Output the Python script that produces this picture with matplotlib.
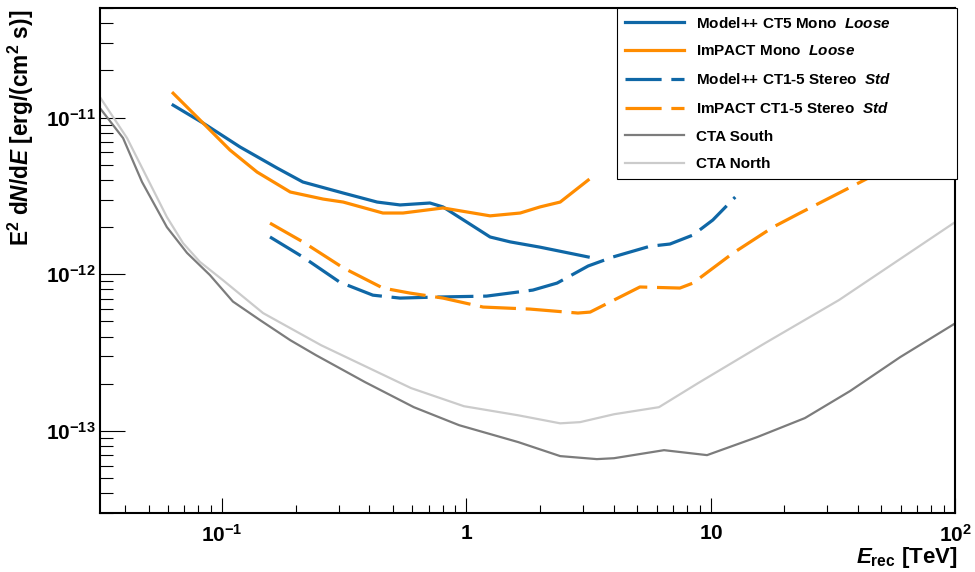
import matplotlib
matplotlib.use("Agg")
import matplotlib.pyplot as plt
from matplotlib.ticker import LogLocator, NullFormatter

# ---------------- data ----------------
south_E = [0.0316, 0.0393, 0.0470, 0.0594, 0.0718, 0.0891, 0.1107, 0.143, 0.190, 0.242, 0.385,
           0.609, 0.933, 1.63, 2.42, 3.42, 4.02, 6.44, 9.66, 15.5, 24.3, 37.2, 59.6, 99.0]
south_F = [1.15e-11, 7.40e-12, 3.88e-12, 2.00e-12, 1.37e-12, 9.89e-13, 6.70e-13, 5.10e-13,
           3.80e-13, 3.05e-13, 2.05e-13, 1.42e-13, 1.09e-13, 8.50e-14, 6.92e-14, 6.62e-14,
           6.71e-14, 7.55e-14, 7.02e-14, 9.15e-14, 1.21e-13, 1.80e-13, 2.96e-13, 4.81e-13]

north_E = [0.0316, 0.0408, 0.0594, 0.0692, 0.0811, 0.1007, 0.147, 0.254, 0.593, 0.977, 1.63,
           2.42, 2.92, 4.02, 6.14, 8.87, 16.7, 33.5, 100.0]
north_F = [1.35e-11, 7.40e-12, 2.32e-12, 1.58e-12, 1.20e-12, 9.18e-13, 5.66e-13, 3.53e-13,
           1.88e-13, 1.44e-13, 1.26e-13, 1.12e-13, 1.14e-13, 1.28e-13, 1.42e-13, 2.02e-13,
           3.64e-13, 6.85e-13, 2.15e-12]

mpp_mono_E = [0.0630, 0.0835, 0.1184, 0.168, 0.214, 0.313, 0.431, 0.535, 0.709, 0.802,
              1.005, 1.25, 1.51, 2.00, 3.15]
mpp_mono_F = [1.20e-11, 9.23e-12, 6.49e-12, 4.76e-12, 3.88e-12, 3.30e-12, 2.89e-12, 2.77e-12,
              2.85e-12, 2.69e-12, 2.15e-12, 1.73e-12, 1.61e-12, 1.49e-12, 1.29e-12]

imp_mono_E = [0.0630, 0.0835, 0.1076, 0.139, 0.190, 0.259, 0.313, 0.455, 0.550, 0.802,
              1.25, 1.66, 2.00, 2.42, 3.15]
imp_mono_F = [1.43e-11, 9.23e-12, 6.21e-12, 4.49e-12, 3.35e-12, 3.02e-12, 2.89e-12, 2.46e-12,
              2.46e-12, 2.65e-12, 2.36e-12, 2.46e-12, 2.69e-12, 2.89e-12, 3.99e-12]

mpp_stereo_E = [0.157, 0.214, 0.303, 0.414, 0.535, 0.757, 1.21, 1.87, 2.35, 3.15, 3.98,
                5.64, 6.81, 8.46, 10.2, 12.6]
mpp_stereo_F = [1.73e-12, 1.29e-12, 8.91e-13, 7.36e-13, 7.05e-13, 7.16e-13, 7.26e-13,
                7.93e-13, 8.79e-13, 1.13e-12, 1.29e-12, 1.51e-12, 1.56e-12, 1.78e-12,
                2.22e-12, 3.11e-12]

imp_stereo_E = [0.157, 0.214, 0.313, 0.455, 0.587, 0.802, 1.17, 1.82, 2.86, 3.21, 3.87,
                5.13, 7.48, 8.46, 12.3, 18.0, 23.2, 36.1, 44.9, 59.6]
imp_stereo_F = [2.12e-12, 1.61e-12, 1.10e-12, 8.17e-13, 7.59e-13, 7.05e-13, 6.18e-13,
                6.00e-13, 5.66e-13, 5.74e-13, 6.65e-13, 8.30e-13, 8.17e-13, 8.79e-13,
                1.36e-12, 2.00e-12, 2.46e-12, 3.50e-12, 4.17e-12, 5.20e-12]

labels = [r"Model++ CT5 Mono  $\mathit{Loose}$",
          r"ImPACT Mono  $\mathit{Loose}$",
          r"Model++ CT1-5 Stereo  $\mathit{Std}$",
          r"ImPACT CT1-5 Stereo  $\mathit{Std}$",
          "CTA South",
          "CTA North"]

x_ticks = [0.1, 1, 10, 100]
x_ticklabels = [r"$10^{-1}$", r"$1$", r"$10$", r"$10^{2}$"]
y_ticks = [1e-13, 1e-12, 1e-11]
y_ticklabels = [r"$10^{-13}$", r"$10^{-12}$", r"$10^{-11}$"]

# ---------------- style ----------------
plt.rcParams['font.family'] = ['Liberation Sans', 'DejaVu Sans']
plt.rcParams['font.weight'] = 'bold'
plt.rcParams['mathtext.fontset'] = 'custom'
plt.rcParams['mathtext.rm'] = 'Liberation Sans:bold'
plt.rcParams['mathtext.bf'] = 'Liberation Sans:bold'
plt.rcParams['mathtext.it'] = 'Liberation Sans:italic:bold'
plt.rcParams['lines.scale_dashes'] = False

BLUE = '#0f67a6'
ORANGE = '#ff8c00'
DGRAY = '#7c7c7c'
LGRAY = '#cbcbcb'

fig = plt.figure(figsize=(9.75, 5.72), dpi=100)
ax = fig.add_axes([100/975, 1-513/572, 855/975, 505/572])

lw_c = 2.3
lw_g = 1.6
dash = (26, 7)
ax.plot(mpp_mono_E, mpp_mono_F, color=BLUE, lw=lw_c, label=labels[0])
ax.plot(imp_mono_E, imp_mono_F, color=ORANGE, lw=lw_c, label=labels[1])
ax.plot(mpp_stereo_E, mpp_stereo_F, color=BLUE, lw=lw_c, dashes=dash, label=labels[2])
ax.plot(imp_stereo_E, imp_stereo_F, color=ORANGE, lw=lw_c, dashes=dash, label=labels[3])
ax.plot(south_E, south_F, color=DGRAY, lw=lw_g, label=labels[4])
ax.plot(north_E, north_F, color=LGRAY, lw=lw_g, label=labels[5])

ax.set_xscale('log')
ax.set_yscale('log')
ax.set_xlim(10**-1.5, 100)
ax.set_ylim(3e-14, 5e-11)

ax.set_xticks(x_ticks)
ax.set_xticklabels(x_ticklabels)
ax.set_yticks(y_ticks)
ax.set_yticklabels(y_ticklabels)
ax.xaxis.set_minor_locator(LogLocator(base=10, subs=range(2, 10), numticks=20))
ax.yaxis.set_minor_locator(LogLocator(base=10, subs=range(2, 10), numticks=20))
ax.xaxis.set_minor_formatter(NullFormatter())
ax.yaxis.set_minor_formatter(NullFormatter())

ax.tick_params(axis='x', which='major', direction='in', length=10.5, width=0.8,
               labelsize=15, pad=8, top=False)
ax.tick_params(axis='x', which='minor', direction='in', length=5.5, width=0.8, top=False)
ax.tick_params(axis='y', which='major', direction='in', length=18, width=0.8,
               labelsize=15, pad=3, right=False)
ax.tick_params(axis='y', which='minor', direction='in', length=9.5, width=0.8, right=False)

for s in ax.spines.values():
    s.set_linewidth(1.5)

ax.set_xlabel(r"$\mathit{E}_{\mathrm{rec}}$ [TeV]", fontsize=16, fontweight='bold', loc='right')
ax.xaxis.set_label_coords(1.003, -0.088)
ax.xaxis.label.set_va('center')
ax.set_ylabel(r"E$^{2}$ d$\mathit{N}$/d$\mathit{E}$ [erg/(cm$^{2}$ s)]", fontsize=16.3,
              fontweight='bold', loc='top')
ax.yaxis.set_label_coords(-0.093, 0.996)
ax.yaxis.label.set_va('center')

leg = ax.legend(loc='upper left', bbox_to_anchor=(617/975, 1-177/572, 340/975, 169/572),
                bbox_transform=fig.transFigure, mode='expand', borderaxespad=0,
                fontsize=11, frameon=True, fancybox=False, edgecolor='black',
                framealpha=1, handlelength=3.9, handletextpad=0.78, labelspacing=0.9,
                borderpad=0.5)
leg.get_frame().set_linewidth(0.8)
leg.set_zorder(10)

fig.savefig("out.png", dpi=100)
